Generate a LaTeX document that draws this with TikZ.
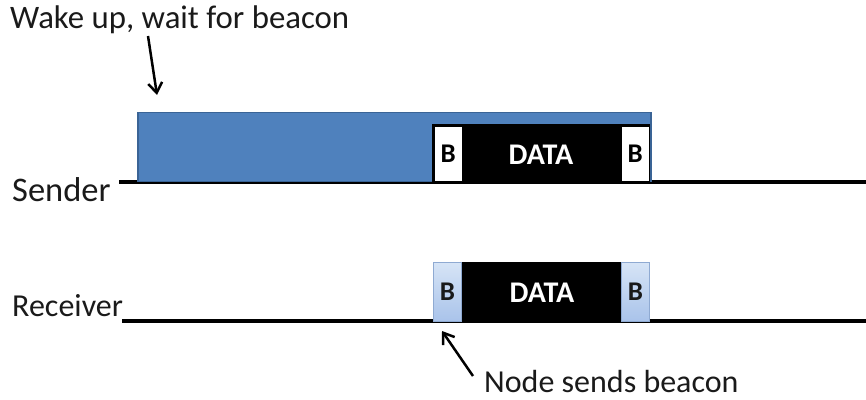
\documentclass[tikz,border=0pt]{standalone}
\usepackage{fontspec}
\setmainfont{Carlito}
\usetikzlibrary{arrows.meta}
\definecolor{waitblue}{HTML}{4F81BD}
\definecolor{waitedge}{HTML}{3A6496}
\definecolor{beacontop}{HTML}{D6E4F6}
\definecolor{beaconbot}{HTML}{A9C3EA}
\definecolor{beaconedge}{HTML}{8FAAD2}
\definecolor{inktext}{HTML}{1A1A1A}
\begin{document}
\begin{tikzpicture}[x=1pt,y=-1pt,
  txt/.style={inner sep=0pt, anchor=base west, font=\fontsize{32}{38}\selectfont, text=inktext},
  timeline/.style={line width=3.2pt, black},
  waitbox/.style={draw=waitedge, fill=waitblue, line width=1.5pt, inner sep=0pt,
    anchor=south west, minimum width=513pt, minimum height=69pt},
  datablk/.style={fill=black, inner sep=0pt, anchor=south west},
  datatxt/.style={inner sep=0pt, font=\fontsize{30}{32}\selectfont\bfseries, text=white},
  bwhite/.style={fill=white, inner sep=0pt, anchor=south west,
    minimum width=27pt, minimum height=54pt,
    font=\fontsize{27}{28}\selectfont\bfseries, text=black},
  blight/.style={draw=beaconedge, line width=0.8pt, top color=beacontop, bottom color=beaconbot,
    inner sep=0pt, anchor=south west, minimum width=28pt, minimum height=59pt,
    font=\fontsize{27}{28}\selectfont\bfseries, text=black!90},
  pointer/.style={line width=2.5pt, -{Straight Barb[length=10pt,width=14pt,line width=2.5pt]}}
]
\useasboundingbox (0,0) rectangle (866,399);

% labels
\node[txt, font=\fontsize{32.8}{38}\selectfont] (wake) at (10,28) {Wake up, wait for beacon};
\node[txt, font=\fontsize{34.5}{38}\selectfont] (sender) at (12,201) {Sender};
\node[txt] (receiver) at (12,316) {Receiver};
\node[txt] (sends) at (484,392) {Node sends beacon};

% time lines
\coordinate (s0) at (119,182);
\coordinate (s1) at (866,182);
\coordinate (r0) at (122,321);
\coordinate (r1) at (866,321);
\draw[timeline] (s0) -- (s1);
\draw[timeline] (r0) -- (r1);

% sender: listening period, then beacon + data + beacon
\node[waitbox] (listen) at (137,182) {};
\node[datablk, minimum width=218pt, minimum height=58pt] (sdata) at (432,182) {};
\node[datatxt] (sdatatxt) at (541,155) {DATA};
\node[bwhite] (sb1) at (434.5,181) {B};
\node[bwhite] (sb2) at (621.5,181) {B};

% receiver: beacon + data + beacon
\node[datablk, minimum width=160pt, minimum height=60pt] (rdata) at (462,322) {};
\node[datatxt] (rdatatxt) at (542,293) {DATA};
\node[blight] (rb1) at (433,322) {B};
\node[blight] (rb2) at (621,322) {B};

% pointers
\coordinate (wa) at (148,36);
\coordinate (wb) at (157,95);
\draw[pointer] (wa) -- (wb);
\coordinate (na) at (473,376);
\coordinate (nb) at (442,331);
\draw[pointer] (na) -- (nb);
\end{tikzpicture}
\end{document}
